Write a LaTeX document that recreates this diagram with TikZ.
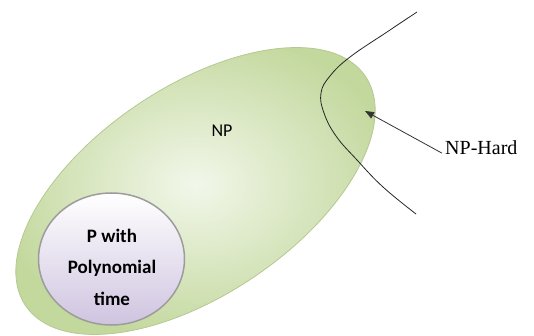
\documentclass[tikz,border=0pt]{standalone}
\usepackage{fontspec}
\setmainfont{Liberation Serif}
\newfontfamily\calibri{Carlito}
\usetikzlibrary{arrows.meta,positioning,shapes.geometric}
\definecolor{npgreen}{HTML}{C3D89D}
\definecolor{nplight}{HTML}{F2F7EA}
\definecolor{npedge}{HTML}{B6C892}
\definecolor{plilac}{HTML}{CFC4E0}
\definecolor{pborder}{HTML}{9C9C9C}

\begin{document}
\begin{tikzpicture}[x=1pt, y=-1pt,
  setlabel/.style={font=\calibri\fontsize{18}{21}\selectfont, inner sep=0pt},
  pointer/.style={-{Triangle[length=9pt,width=7pt]}, line width=0.8pt, black!80}]
  \useasboundingbox (0,0) rectangle (534,336);

  % the NP set and the P set inside it
  \node (npset) [ellipse, rotate=34, minimum width=410pt, minimum height=208pt, inner sep=0pt,
    draw=npedge, line width=0.8pt, inner color=nplight, outer color=npgreen]
    at (195.5,191) {};
  \node (pset) [ellipse, minimum width=146pt, minimum height=132pt, inner sep=0pt,
    draw=pborder, line width=1.5pt, top color=white, bottom color=plilac] at (111.5,259) {};

  \node (nplabel) [setlabel] at (222,131) {NP};
  \node (ptext) [font=\calibri\bfseries\fontsize{19}{31.5}\selectfont, align=center, inner sep=0pt]
    at (112,267) {P with\\Polynomial\\time};

  % NP-hard boundary
  \draw[line width=0.8pt, black!85] plot[smooth, tension=0.7] coordinates
    {(417,12) (387,32) (350,57) (330,76) (321,93) (324,113) (336,136) (357,160) (383,187) (416,214)};

  \node (nphard) [anchor=base west, font=\fontsize{20}{24}\selectfont, inner sep=0pt] at (445,155) {NP-Hard};
  \coordinate (hardtip) at (365,111);
  \draw[pointer] ([shift={(-3,5)}]nphard.west) -- (hardtip);
\end{tikzpicture}
\end{document}
